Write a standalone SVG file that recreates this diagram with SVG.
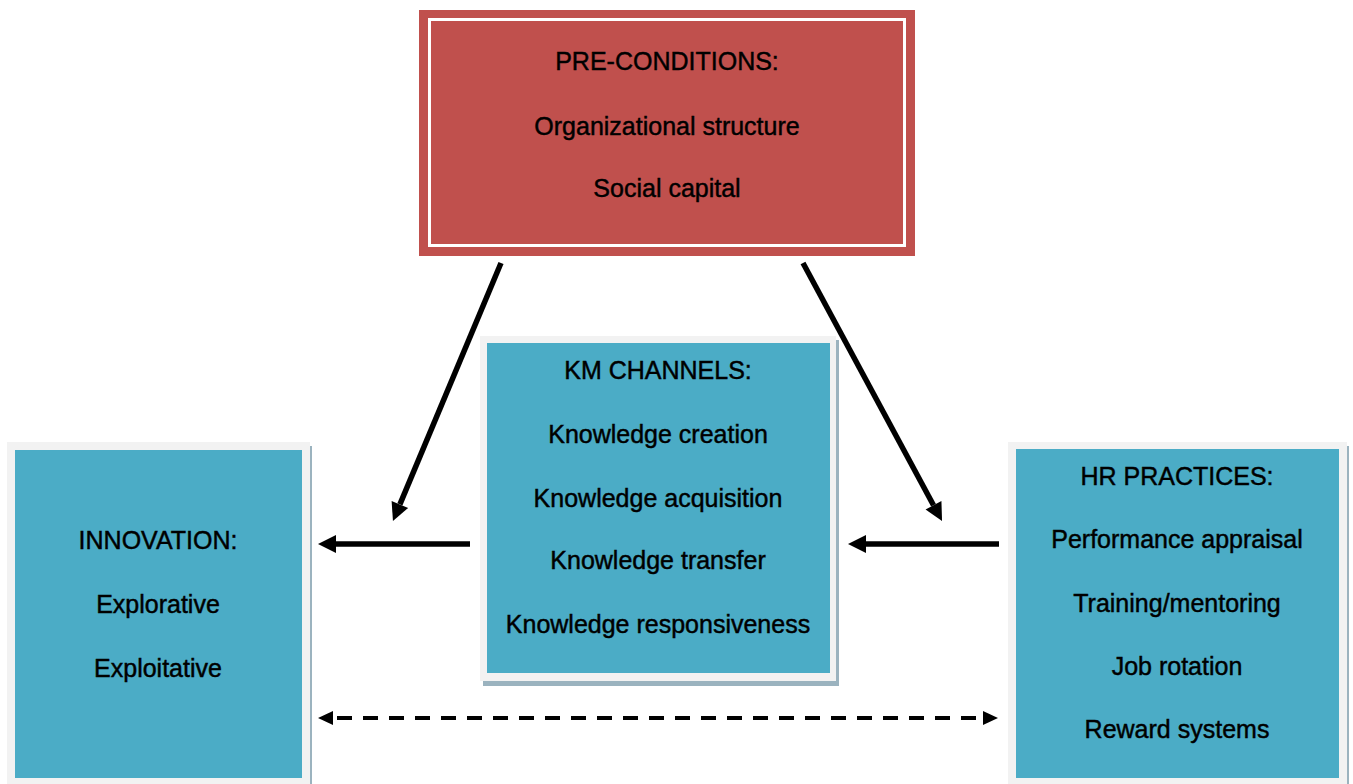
<svg xmlns="http://www.w3.org/2000/svg" width="1353" height="784" viewBox="0 0 1353 784">
  <style>
    .lbl { font-family: "Liberation Sans", Arial, sans-serif; font-size: 25px; fill: #000; stroke: #000; stroke-width: 0.45; text-anchor: middle; }
    .frame { fill: #F2F2F2; }
    .shadow { fill: #9BB3BF; }
    .teal { fill: #4BACC6; }
    .link { stroke: #000; stroke-width: 5.5; fill: none; }
    .dash { stroke: #000; stroke-width: 4; fill: none; stroke-dasharray: 15 11; }
  </style>
  <defs>
    <marker id="head" markerUnits="userSpaceOnUse" markerWidth="20" markerHeight="20" viewBox="0 -10 20 20" refX="0" refY="0" orient="auto" overflow="visible">
      <path d="M0,-9 L18,0 L0,9 Z" fill="#000"/>
    </marker>
    <marker id="headSmall" markerUnits="userSpaceOnUse" markerWidth="16" markerHeight="16" viewBox="0 -8 16 16" refX="0" refY="0" orient="auto-start-reverse" overflow="visible">
      <path d="M0,-7 L15,0 L0,7 Z" fill="#000"/>
    </marker>
  </defs>

  <rect width="1353" height="784" fill="#fff"/>

  <!-- Pre-conditions -->
  <g id="preconditions">
    <rect x="419" y="10" width="496" height="246" fill="#C0504D"/>
    <rect x="429.5" y="19.5" width="475" height="226" fill="none" stroke="#fff" stroke-width="3"/>
    <text class="lbl" x="667" y="70">PRE-CONDITIONS:</text>
    <text class="lbl" x="667" y="135">Organizational structure</text>
    <text class="lbl" x="667" y="197">Social capital</text>
  </g>

  <!-- KM channels -->
  <g id="km-channels">
    <rect class="shadow" x="483" y="340" width="356" height="346"/>
    <rect class="frame" x="480" y="336" width="356" height="345"/>
    <rect class="teal" x="487" y="343" width="343" height="330"/>
    <text class="lbl" x="658" y="379">KM CHANNELS:</text>
    <text class="lbl" x="658" y="443">Knowledge creation</text>
    <text class="lbl" x="658" y="507">Knowledge acquisition</text>
    <text class="lbl" x="658" y="569">Knowledge transfer</text>
    <text class="lbl" x="658" y="633">Knowledge responsiveness</text>
  </g>

  <!-- Innovation -->
  <g id="innovation">
    <rect class="shadow" x="10" y="446" width="302" height="345"/>
    <rect class="frame" x="7" y="442" width="303" height="345"/>
    <rect class="teal" x="15" y="450" width="287" height="328"/>
    <text class="lbl" x="158" y="549">INNOVATION:</text>
    <text class="lbl" x="158" y="613">Explorative</text>
    <text class="lbl" x="158" y="677">Exploitative</text>
  </g>

  <!-- HR practices -->
  <g id="hr-practices">
    <rect class="shadow" x="1011" y="446" width="338" height="345"/>
    <rect class="frame" x="1008" y="442" width="339" height="345"/>
    <rect class="teal" x="1016" y="449" width="323" height="329"/>
    <text class="lbl" x="1177" y="485">HR PRACTICES:</text>
    <text class="lbl" x="1177" y="548">Performance appraisal</text>
    <text class="lbl" x="1177" y="612">Training/mentoring</text>
    <text class="lbl" x="1177" y="675">Job rotation</text>
    <text class="lbl" x="1177" y="738">Reward systems</text>
  </g>

  <!-- Connectors -->
  <g id="connectors">
    <line class="link" x1="501" y1="263" x2="399.9" y2="504.4" marker-end="url(#head)"/>
    <line class="link" x1="803" y1="263" x2="933.5" y2="505.2" marker-end="url(#head)"/>
    <line class="link" x1="470" y1="544" x2="336" y2="544" marker-end="url(#head)"/>
    <line class="link" x1="999" y1="544" x2="866" y2="544" marker-end="url(#head)"/>
    <line class="dash" x1="333" y1="718" x2="983" y2="718" stroke-dashoffset="-4" marker-start="url(#headSmall)" marker-end="url(#headSmall)"/>
  </g>
</svg>
